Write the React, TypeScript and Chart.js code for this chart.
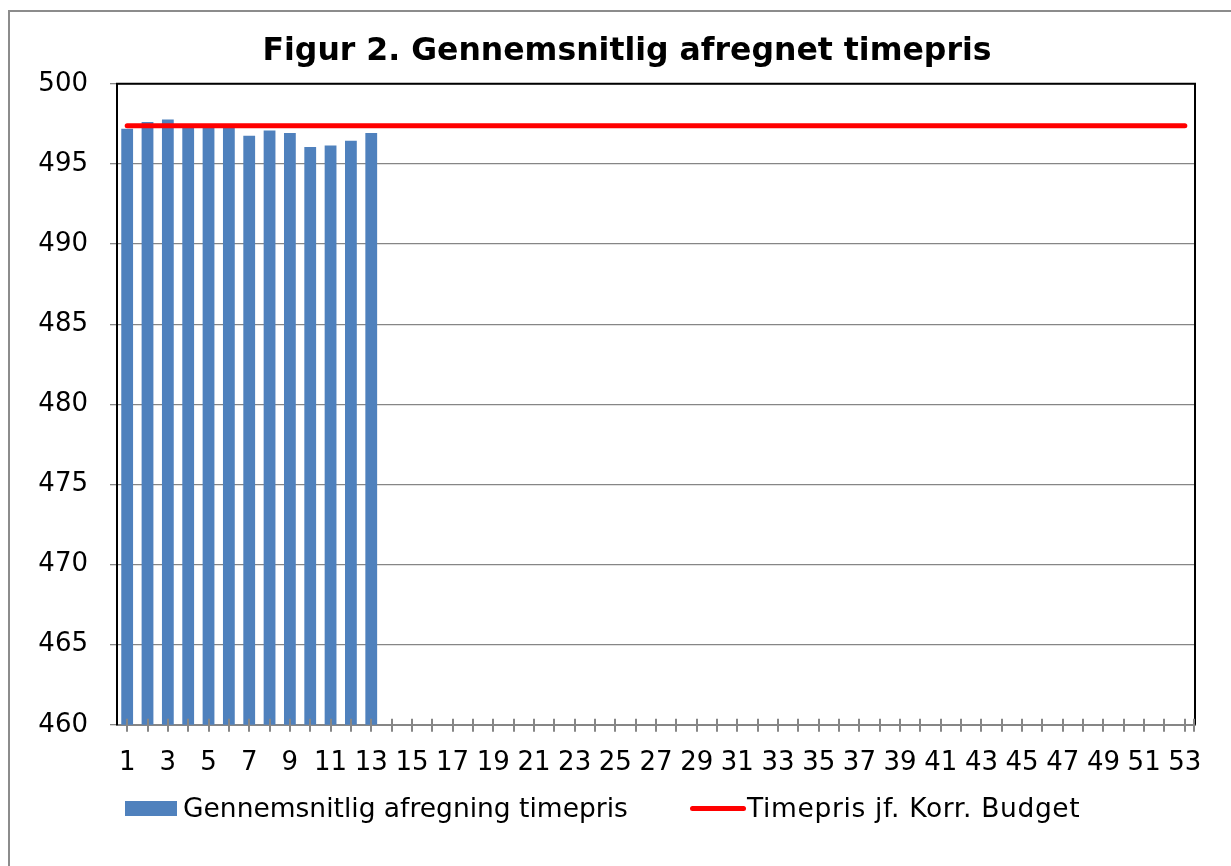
import React, { useEffect, useRef } from 'react';
import { Chart, registerables } from 'chart.js';

Chart.register(...registerables);

const chartTitle = 'Figur 2. Gennemsnitlig afregnet timepris';
const seriesNames = ['Gennemsnitlig afregning timepris', 'Timepris jf. Korr. Budget'];

const weeks = [
  '1', '2', '3', '4', '5', '6', '7', '8', '9', '10',
  '11', '12', '13', '14', '15', '16', '17', '18', '19', '20',
  '21', '22', '23', '24', '25', '26', '27', '28', '29', '30',
  '31', '32', '33', '34', '35', '36', '37', '38', '39', '40',
  '41', '42', '43', '44', '45', '46', '47', '48', '49', '50',
  '51', '52', '53',
];

const avgRate = [497.2, 497.62, 497.78, 497.3, 497.3, 497.3, 496.76, 497.08, 496.93, 496.06, 496.15, 496.45, 496.93];

const budgetRate = [
  497.38, 497.38, 497.38, 497.38, 497.38, 497.38, 497.38, 497.38, 497.38, 497.38,
  497.38, 497.38, 497.38, 497.38, 497.38, 497.38, 497.38, 497.38, 497.38, 497.38,
  497.38, 497.38, 497.38, 497.38, 497.38, 497.38, 497.38, 497.38, 497.38, 497.38,
  497.38, 497.38, 497.38, 497.38, 497.38, 497.38, 497.38, 497.38, 497.38, 497.38,
  497.38, 497.38, 497.38, 497.38, 497.38, 497.38, 497.38, 497.38, 497.38, 497.38,
  497.38, 497.38, 497.38,
];

const yMin = 460;
const yMax = 500;
const yStep = 5;

const BAR_COLOR = '#4F81BD';
const LINE_COLOR = '#FF0000';
const GRID_COLOR = '#868686';
const FONT = '"DejaVu Sans", Verdana, sans-serif';

const titleShift = {
  id: 'titleShift',
  afterLayout(chart: any) {
    if (chart.titleBlock) {
      chart.titleBlock.left += 21;
    }
  },
};

const frameAndTicks = {
  id: 'frameAndTicks',
  afterDatasetsDraw(chart: any) {
    const { ctx, chartArea, scales } = chart;
    const { left, right, top, bottom } = chartArea;
    const x = scales.x;
    ctx.save();
    ctx.strokeStyle = '#000000';
    ctx.lineWidth = 2;
    ctx.beginPath();
    ctx.moveTo(left - 1, top);
    ctx.lineTo(right, top);
    ctx.lineTo(right, bottom);
    ctx.stroke();
    ctx.strokeStyle = GRID_COLOR;
    ctx.lineWidth = 2;
    for (let i = 0; i < x.ticks.length; i++) {
      const px = Math.round(x.getPixelForTick(i));
      ctx.beginPath();
      ctx.moveTo(px, bottom - 6);
      ctx.lineTo(px, bottom + 7);
      ctx.stroke();
    }
    ctx.beginPath();
    ctx.moveTo(right - 1, bottom - 6);
    ctx.lineTo(right - 1, bottom + 7);
    ctx.stroke();
    ctx.restore();
  },
};

export default function App() {
  const canvasRef = useRef<HTMLCanvasElement | null>(null);

  useEffect(() => {
    const canvas = canvasRef.current;
    if (!canvas) return;
    const chart = new Chart(canvas, {
      type: 'bar',
      data: {
        labels: weeks,
        datasets: [
          {
            type: 'bar',
            label: seriesNames[0],
            data: avgRate,
            backgroundColor: BAR_COLOR,
            borderWidth: 0,
            barPercentage: 0.58,
            categoryPercentage: 1,
            order: 1,
          },
          {
            type: 'line',
            label: seriesNames[1],
            data: budgetRate,
            borderColor: LINE_COLOR,
            backgroundColor: LINE_COLOR,
            borderWidth: 5,
            borderCapStyle: 'round',
            pointRadius: 0,
            pointHoverRadius: 0,
            fill: false,
            order: 0,
          },
        ],
      } as any,
      options: {
        animation: false,
        responsive: true,
        maintainAspectRatio: false,
        layout: { padding: { left: 28, right: 36, top: 0, bottom: 72 } },
        plugins: {
          legend: { display: false },
          tooltip: { enabled: false },
          title: {
            display: true,
            text: chartTitle,
            color: '#000000',
            font: { family: FONT, size: 31.5, weight: 'bold' },
            padding: { top: 21, bottom: 13 },
          },
        },
        scales: {
          x: {
            offset: true,
            grid: { display: false },
            border: { display: true, color: GRID_COLOR, width: 2 },
            ticks: {
              autoSkip: false,
              maxRotation: 0,
              minRotation: 0,
              padding: 15,
              color: '#000000',
              font: { family: FONT, size: 26 },
              callback: (_v: any, i: number) => (i % 2 === 0 ? weeks[i] : ''),
            },
          },
          y: {
            min: yMin,
            max: yMax,
            afterFit: (scale: any) => {
              scale.width = 79;
            },
            grid: { color: GRID_COLOR, lineWidth: 1.3, tickLength: 7, drawTicks: true },
            border: { display: true, color: '#000000', width: 2 },
            ticks: {
              stepSize: yStep,
              padding: 22,
              color: '#000000',
              font: { family: FONT, size: 26 },
            },
          },
        },
      } as any,
      plugins: [titleShift, frameAndTicks],
    });
    return () => chart.destroy();
  }, []);

  const legendText: React.CSSProperties = {
    position: 'absolute',
    top: 793,
    height: 30,
    lineHeight: '30px',
    fontFamily: FONT,
    fontSize: 26.5,
    color: '#000000',
    whiteSpace: 'nowrap',
  };

  return (
    <div style={{ position: 'absolute', left: 0, top: 0, width: 1231, height: 866, overflow: 'hidden' }}>
      <div
        style={{
          position: 'absolute',
          left: 8,
          top: 10,
          width: 1223,
          height: 856,
          boxSizing: 'border-box',
          borderLeft: '2px solid #8c8c8c',
          borderTop: '2px solid #8c8c8c',
          background: '#ffffff',
        }}
      />
      <div style={{ position: 'absolute', left: 10, top: 12, width: 1221, height: 854 }}>
        <canvas ref={canvasRef} />
      </div>
      <div style={{ position: 'absolute', left: 125, top: 801, width: 52, height: 15, background: BAR_COLOR }} />
      <span style={{ ...legendText, left: 183 }}>{seriesNames[0]}</span>
      <div style={{ position: 'absolute', left: 690, top: 806, width: 56, height: 5, borderRadius: 2.5, background: LINE_COLOR }} />
      <span style={{ ...legendText, left: 747, letterSpacing: '0.65px' }}>{seriesNames[1]}</span>
    </div>
  );
}
